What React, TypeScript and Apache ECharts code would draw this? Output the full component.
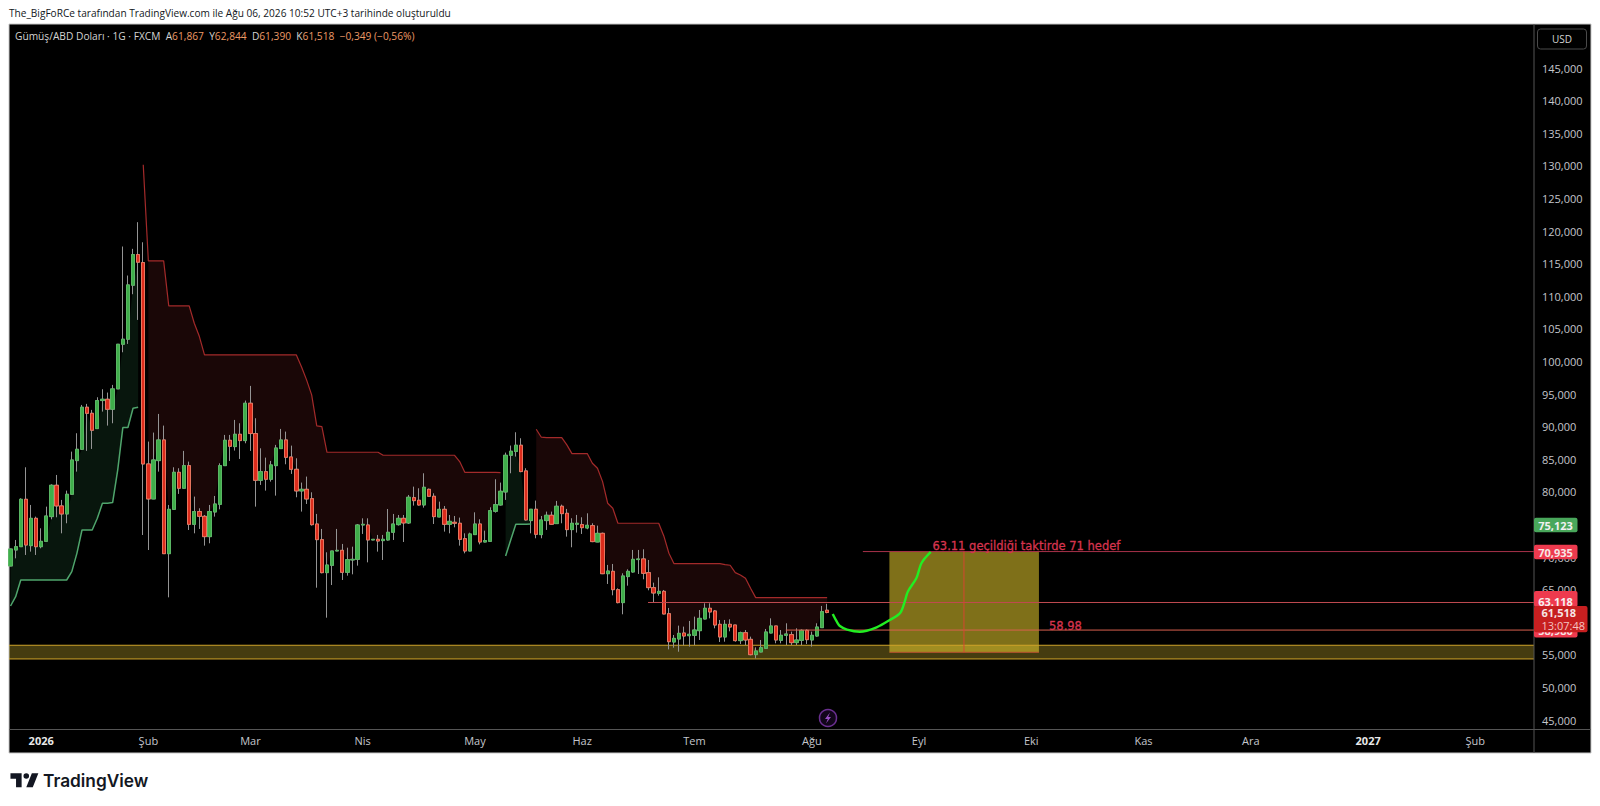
import React, { useEffect, useRef } from "react";
import * as echarts from "echarts";

// open, close, low, high (thousands of USD) for each daily bar
const candles: number[][] = [
  [68.65,71.26,68.6,71.3],[71.1,71.61,69.82,72.64],[71.61,78.88,71.6,79.03],[78.88,71.87,70.34,83.79],[71.77,75.96,70.85,78.01],
  [75.96,71.61,70.34,76.22],[71.61,72.43,71.36,74.43],[72.43,76.32,72.33,77.75],[76.22,81.03,75.81,81.18],[81.03,77.86,76.12,82.61],
  [77.86,76.63,73.66,78.78],[76.63,79.65,75.2,80.21],[79.65,84.91,79.55,86.19],[84.81,86.55,83.12,89.01],[86.55,93.0,86.45,93.35],
  [93.0,92.07,86.3,93.51],[92.07,89.47,86.6,92.59],[89.72,94.02,89.67,94.53],[94.02,94.22,92.33,95.76],[94.22,92.69,90.18,95.25],
  [92.69,95.81,90.54,96.42],[95.81,102.66,95.8,102.7],[102.66,103.43,101.43,117.65],[103.43,111.76,102.71,113.2],[111.71,116.42,110.33,117.29],
  [116.42,115.24,106.39,121.38],[115.19,84.3,73.4,118.3],[84.3,78.93,71.1,87.73],[78.93,84.91,78.9,89.11],[84.81,87.98,83.12,91.97],
  [87.98,70.54,70.5,90.18],[70.54,77.34,63.84,78.01],[77.34,83.02,77.24,83.79],[83.02,80.57,79.7,83.64],[80.57,84.04,80.5,86.3],
  [84.04,75.04,74.17,84.66],[75.04,77.0,73.66,79.29],[77.0,76.27,74.33,77.5],[76.27,73.15,71.77,76.47],[73.15,77.0,72.13,78.01],
  [76.93,78.16,76.22,79.39],[78.11,84.04,77.34,84.4],[84.04,87.93,84.0,88.75],[87.93,87.01,84.76,88.75],[86.96,88.85,86.35,91.05],
  [88.85,87.88,85.07,90.54],[87.88,93.61,87.47,94.02],[93.61,88.96,86.3,96.27],[88.96,81.79,77.75,91.31],[81.79,83.12,81.08,86.7],
  [83.12,81.95,80.21,85.27],[81.95,84.15,81.59,84.76],[84.04,86.75,79.44,87.22],[86.65,87.98,86.6,89.67],[87.98,85.32,84.25,89.26],
  [85.37,83.48,82.77,87.11],[83.48,80.16,79.19,85.17],[80.16,80.41,76.99,81.44],[80.41,78.93,78.16,82.36],[78.98,74.99,74.84,79.95],
  [75.09,72.69,65.32,76.63],[72.69,67.63,67.52,74.33],[67.63,68.8,60.72,70.75],[68.75,70.95,65.73,70.95],[70.95,71.05,70.9,74.33],
  [71.05,67.68,66.5,72.03],[67.68,69.62,67.17,71.46],[69.57,69.67,67.37,71.61],[69.67,74.94,68.7,75.09],[74.94,75.04,73.56,75.96],
  [74.94,72.64,69.21,75.96],[72.64,72.74,72.6,72.74],[72.74,72.48,70.85,73.41],[72.54,72.74,69.57,73.41],[72.64,73.82,72.54,77.39],
  [73.82,75.09,72.64,76.63],[74.99,75.96,74.84,76.47],[75.96,75.25,72.33,76.47],[75.25,79.19,75.09,79.54],[79.13,78.67,77.91,80.82],
  [78.73,78.01,77.91,80.57],[78.01,80.72,77.6,82.87],[80.41,79.34,79.29,80.52],[79.34,76.22,75.09,79.8],[76.17,77.34,76.12,78.52],
  [77.34,75.04,73.92,77.85],[75.04,75.5,73.66,76.47],[75.35,75.2,74.58,76.32],[75.2,72.74,71.77,76.07],[72.84,70.95,70.59,73.66],
  [70.95,73.56,70.9,73.76],[73.46,75.09,73.41,76.88],[75.09,72.33,71.97,75.81],[72.33,72.54,72.28,74.07],[72.43,77.14,72.38,77.65],
  [77.04,78.06,76.83,81.95],[78.01,80.11,77.91,81.44],[80.0,85.63,78.78,86.04],[85.63,86.25,82.87,87.12],[86.2,87.17,85.43,89.16],
  [87.17,83.13,83.03,88.24],[83.23,75.71,75.61,83.64],[75.61,77.35,73.66,77.35],[77.35,73.51,72.9,78.68],[73.46,75.71,72.9,76.32],
  [75.61,76.43,74.18,76.99],[76.43,75.05,74.94,76.99],[75.15,77.81,75.1,78.63],[77.81,76.68,75.2,78.06],[76.73,74.23,73.15,77.4],
  [74.23,75.2,71.52,75.97],[75.05,75.2,73.77,76.48],[75.0,74.53,73.56,76.12],[74.48,74.89,74.28,76.73],[74.84,72.39,72.3,75.2],
  [72.33,73.66,72.3,74.84],[73.66,67.47,67.4,73.77],[67.47,67.88,65.89,68.81],[67.83,65.02,64.15,68.96],[65.02,63.03,62.92,65.23],
  [63.03,67.12,61.24,67.53],[67.02,67.83,65.63,68.14],[67.73,69.67,67.63,71.11],[69.63,69.73,67.42,71.11],[69.73,67.53,66.61,71.21],
  [67.63,65.33,64.92,69.57],[65.33,64.51,63.08,66.09],[64.46,64.76,64.1,66.91],[64.76,61.29,61.25,64.97],[61.34,57.04,55.86,62.21],
  [56.99,57.55,56.12,58.07],[57.45,58.32,55.5,59.5],[58.37,57.91,56.48,59.35],[57.96,58.17,56.28,60.22],[58.02,58.83,56.53,60.88],
  [58.73,60.62,57.3,61.9],[60.52,62.16,60.47,62.93],[62.16,61.6,60.62,62.93],[61.75,59.6,59.09,61.9],[59.7,57.76,56.99,60.37],
  [57.76,59.7,57.04,60.37],[59.7,59.29,58.63,60.47],[59.6,57.2,57.04,59.6],[57.2,58.42,56.69,58.58],[58.42,57.3,56.53,58.83],
  [57.4,55.05,54.95,57.81],[55.05,55.61,54.48,56.17],[55.46,56.12,55.41,57.3],[56.02,58.53,55.97,58.99],[58.37,59.45,58.32,60.62],
  [59.45,57.3,56.79,59.45],[57.25,58.02,56.79,58.83],[58.02,58.22,56.53,59.86],[58.12,56.89,56.53,58.58],[56.89,57.3,56.53,59.09],
  [57.25,58.78,56.53,58.93],[58.78,57.35,56.69,58.93],[57.3,58.02,56.28,58.58],[57.91,59.29,57.81,59.86],[59.19,61.65,59.19,62.52],
  [61.867,61.518,61.39,62.844],
];

const greenTrendFirst = [62.51,63.94,66.5,66.5,66.5,66.5,66.5,66.5,66.5,66.5,66.5,66.5,67.78,70.59,74.17,74.17,74.17,75.96,78.26,78.26,78.37,83.38,89.88,89.88,92.84,92.99];
const greenTrendSecond = [70.19,72.64,75.05,75.05,75.05,75.1];
const redTrendFirst = [130.18,115.45,115.45,115.45,115.45,108.54,108.54,108.54,108.54,108.54,105.88,103.84,
  101.02,101.02,101.02,101.02,101.02,101.02,101.02,101.02,101.02,101.02,101.02,101.02,101.02,101.02,101.02,101.02,101.02,101.02,101.02,
  99.2,97.19,94.89,90.13,90.03,86.09,86.09,86.09,86.09,86.09,86.09,86.09,86.09,86.09,86.09,86.09,
  85.63,85.63,85.63,85.63,85.63,85.63,85.63,85.63,85.63,85.63,85.63,85.63,85.63,85.63,85.63,
  84.66,83.02,83.02,83.02,83.02,83.02,83.02,83.02,82.97];
const redTrendSecond = [89.62,88.4,88.34,88.34,88.34,88.34,87.22,85.89,85.89,85.89,85.89,84.41,83.64,81.59,78.27,77.5,
  75.2,75.2,75.2,75.2,75.2,75.2,75.2,75.2,75.2,73.26,70.6,
  69.0,69.0,69.0,69.0,69.0,69.0,69.0,69.0,69.0,69.0,68.86,68.76,67.63,67.27,66.76,65.23,
  63.8,63.8,63.8,63.8,63.8,63.8,63.8,63.8,63.8,63.8,63.8,63.8,63.8,63.8,63.8];

const priceTicks = [45,50,55,60,65,70,75,80,85,90,95,100,105,110,115,120,125,130,135,140,145];
const monthLabels: Record<number, string> = { 6:"2026", 27:"Şub", 47:"Mar", 69:"Nis", 91:"May", 112:"Haz", 134:"Tem", 157:"Ağu", 178:"Eyl", 200:"Eki", 222:"Kas", 243:"Ara", 266:"2027", 287:"Şub" };

// hand-drawn annotations in [bar index, price]
const forecastCurve = [[161.1,61.29],[161.9,60.1],[162.5,59.45],[163.9,58.9],[166.4,58.57],[169.7,59.25],[172.3,60.37],[174.3,61.44],[175.2,63.18],[175.8,64.71],[177.5,66.81],[178.5,69.11],[180.3,70.8]];
const targetLevel = 70.86, breakLevel = 63.05, supportLevel = 58.82;
const bandHigh = 56.49, bandLow = 54.39;
const boxLeftBar = 172.2, boxRightBar = 201.5, boxMidBar = 186.8, boxLow = 55.41;
const targetStartBar = 167, breakStartBar = 124.9, supportStartBar = 151.9;

const BAR_SLOTS = 299;
const FONT = "'Open Sans', sans-serif";
const NOTE_FONT = "11.5px 'DejaVu Sans', sans-serif";

echarts.graphic.registerShape("tvlogo", echarts.graphic.extendPath("M14 6H2v6h6v9h6V6zm12 15h-7l6-15h7l-6 15zm-7-9a3 3 0 1 0 0-6 3 3 0 0 0 0 6z", {}) as any);

const GREEN_START_2 = 97;
const RED_START_1 = 26;
const RED_START_2 = 103;

function levelSeries(name: string, from: number, to: number, y1: number, y2: number, color: string, extra: any = {}) {
  return {
    name, type: "line", xAxisIndex: 1, yAxisIndex: 0, z: 5, symbol: "none", silent: true,
    data: [[from, y1], [to, y2]], lineStyle: { color, width: 1 }, ...extra,
  };
}

export default function App() {
  const ref = useRef<HTMLDivElement>(null);
  useEffect(() => {
    if (!ref.current) return;
    const chart = echarts.init(ref.current, undefined, { renderer: "svg" });

    const categories = Array.from({ length: BAR_SLOTS }, (_, i) => monthLabels[i] ?? String(i));
    const bodies = candles.map(([o, c]) => [o, c, Math.min(o, c), Math.max(o, c)]);

    const red: (number | null)[] = candles.map(() => null);
    redTrendFirst.forEach((v, i) => (red[RED_START_1 + i] = v));
    redTrendSecond.forEach((v, i) => (red[RED_START_2 + i] = v));
    const green: (number | null)[] = candles.map(() => null);
    greenTrendFirst.forEach((v, i) => (green[i] = v));
    greenTrendSecond.forEach((v, i) => (green[GREEN_START_2 + i] = v));

    const redBase = candles.map(([o, c], i) => (red[i] != null && i !== RED_START_1 ? Math.max(o, c) : null));
    const redFill = candles.map((_, i) => (redBase[i] != null ? (red[i] as number) - (redBase[i] as number) : null));
    const greenFill = candles.map(([o, c], i) => (green[i] != null ? Math.max(0, Math.min(o, c) - (green[i] as number)) : null));

    const none = { opacity: 0 };
    const bandLeft = -0.3;
    const option: any = {
      animation: false,
      backgroundColor: "#ffffff",
      textStyle: { fontFamily: FONT },
      grid: { left: 8, right: 66, top: 24.5, bottom: 76.5, containLabel: false },
      xAxis: [
        {
          type: "category", data: categories, boundaryGap: true,
          axisLine: { show: false }, axisTick: { show: false }, splitLine: { show: false },
          axisLabel: {
            interval: (i: number) => monthLabels[i] !== undefined,
            formatter: (v: string) => (/^\d{4}$/.test(v) && Number(v) > 2000 ? `{b|${v}}` : v),
            color: "#c4c6cc", fontSize: 11, margin: 5, fontFamily: FONT, hideOverlap: false,
            rich: { b: { color: "#e8e8e8", fontWeight: "bold", fontSize: 11, fontFamily: FONT } },
          },
        },
        { type: "value", min: -0.5, max: BAR_SLOTS - 0.5, show: false, splitLine: { show: false } },
      ],
      yAxis: [{
        type: "value", position: "right", min: 43.57, max: 151.7,
        axisLine: { show: false }, axisTick: { show: false }, splitLine: { show: false },
        axisLabel: {
          customValues: priceTicks,
          formatter: (v: number) => `${v},000`,
          color: "#c4c6cc", fontSize: 11, margin: 8, fontFamily: FONT,
        },
      }],
      series: [
        // supertrend fills
        { name: "redBase", type: "line", stack: "red", data: redBase, symbol: "none", lineStyle: none, z: 1, silent: true },
        { name: "redFill", type: "line", stack: "red", data: redFill, symbol: "none", lineStyle: none, areaStyle: { color: "#1a0707", opacity: 1 }, z: 1, silent: true },
        { name: "greenBase", type: "line", stack: "green", data: green, symbol: "none", lineStyle: none, z: 1, silent: true },
        { name: "greenFill", type: "line", stack: "green", data: greenFill, symbol: "none", lineStyle: none, areaStyle: { color: "#08160d", opacity: 1 }, z: 1, silent: true },
        // support band + target box
        levelSeries("Band", bandLeft, BAR_SLOTS - 0.5, bandHigh, bandHigh, "#cfa42a", {
          z: 2,
          markArea: { silent: true, data: [[
            { coord: [bandLeft, bandHigh], itemStyle: { color: "rgba(255,220,60,0.27)", borderWidth: 0 } },
            { coord: [BAR_SLOTS - 0.5, bandLow] },
          ]] },
        }),
        levelSeries("BandLow", bandLeft, BAR_SLOTS - 0.5, bandLow, bandLow, "#cfa42a", { z: 2 }),
        // candles: wicks below, bodies above
        {
          name: "Wicks", type: "candlestick", data: candles, barWidth: 3.8, z: 3, silent: true,
          itemStyle: { color: "#949494", color0: "#949494", borderColor: "#949494", borderColor0: "#949494", borderWidth: 1 },
        },
        {
          name: "Gümüş/ABD Doları", type: "candlestick", data: bodies, barWidth: 3.8, z: 4, silent: true,
          itemStyle: { color: "#3fae4a", color0: "#dc2c1c", borderColor: "#57bb62", borderColor0: "#f27a60", borderWidth: 0.8 },
        },
        // supertrend lines
        { name: "Red trend", type: "line", data: red, symbol: "none", z: 4, silent: true, lineStyle: { color: "#a32a2a", width: 1.2 } },
        { name: "Green trend", type: "line", data: green, symbol: "none", z: 4, silent: true, lineStyle: { color: "#4fa56c", width: 1.5 } },
        // drawn levels
        levelSeries("Target", targetStartBar, BAR_SLOTS - 0.5, targetLevel, targetLevel, "#a8324a"),
        levelSeries("Break", breakStartBar, BAR_SLOTS - 0.5, breakLevel, breakLevel, "#c04a50"),
        levelSeries("Support", supportStartBar, BAR_SLOTS - 0.5, supportLevel, supportLevel, "#d8604f"),
        levelSeries("BoxBottom", boxLeftBar, boxRightBar, boxLow, boxLow, "#b8502f", {
          z: 5,
          markArea: { silent: true, data: [[
            { coord: [boxLeftBar, targetLevel], itemStyle: { color: "rgba(254,224,50,0.5)", borderWidth: 0 } },
            { coord: [boxRightBar, boxLow] },
          ]] },
        }),
        levelSeries("BoxMid", boxMidBar, boxMidBar, targetLevel, boxLow, "rgba(222,66,50,0.6)", { lineStyle: { color: "rgba(222,66,50,0.6)", width: 1.5 } }),
        {
          name: "Forecast", type: "line", xAxisIndex: 1, data: forecastCurve, smooth: 0.3, symbol: "none", z: 6, silent: true,
          lineStyle: { color: "#22ee22", width: 2.4 },
        },
      ],
      graphic: { elements: [
        { type: "rect", z: -10, silent: true, shape: { x: 9, y: 24, width: 1582, height: 729 }, style: { fill: "#000000", stroke: "#c8c8c8", lineWidth: 1 } },
        { type: "line", z: 10, silent: true, shape: { x1: 9, y1: 729.5, x2: 1591, y2: 729.5 }, style: { stroke: "#555555", lineWidth: 1 } },
        { type: "line", z: 10, silent: true, shape: { x1: 1534, y1: 24, x2: 1534, y2: 753 }, style: { stroke: "#555555", lineWidth: 1 } },
        { type: "text", z: 20, x: 9, y: 13, style: { text: "The_BigFoRCe tarafından TradingView.com ile Ağu 06, 2026 10:52 UTC+3 tarihinde oluşturuldu", fill: "#131722", font: `10.1px ${FONT}`, textVerticalAlign: "middle" } },
        { type: "text", z: 20, x: 15, y: 36, style: {
          text: "{t|Gümüş/ABD Doları · 1G · FXCM}  {l|A}{v|61,867}  {l|Y}{v|62,844}  {l|D}{v|61,390}  {l|K}{v|61,518}  {v|−0,349 (−0,56%)}",
          verticalAlign: "middle", font: `10.2px ${FONT}`,
          rich: {
            t: { fill: "#d4d4d4", font: `10.2px ${FONT}` }, l: { fill: "#d4d4d4", font: `10.2px ${FONT}` }, v: { fill: "#ec9a66", font: `10.2px ${FONT}` },
          },
        } },
        // USD box
        { type: "rect", z: 20, shape: { x: 1537.5, y: 29, width: 49, height: 20, r: 3 }, style: { fill: "#000", stroke: "#4a4a4a", lineWidth: 1 } },
        { type: "text", z: 21, x: 1562, y: 39, style: { text: "USD", fill: "#d4d4d4", font: `10px ${FONT}`, align: "center", verticalAlign: "middle" } },
        // price badges
        { type: "rect", z: 20, shape: { x: 1534, y: 517.7, width: 43.5, height: 14.5, r: 2 }, style: { fill: "#49a75b" } },
        { type: "text", z: 21, x: 1555.5, y: 525, style: { text: "75,123", fill: "#f0f0f0", font: `bold 11px ${FONT}`, align: "center", verticalAlign: "middle" } },
        { type: "rect", z: 20, shape: { x: 1534, y: 544.7, width: 43.5, height: 14.5, r: 2 }, style: { fill: "#ee3a4e" } },
        { type: "text", z: 21, x: 1555.5, y: 552, style: { text: "70,935", fill: "#f6e6e6", font: `bold 11px ${FONT}`, align: "center", verticalAlign: "middle" } },
        { type: "rect", z: 20, shape: { x: 1534, y: 622, width: 43.5, height: 15.5, r: 2 }, style: { fill: "#ee3a4e" } },
        { type: "text", z: 21, x: 1555.5, y: 630, style: { text: "58,980", fill: "#f6e6e6", font: `bold 11px ${FONT}`, align: "center", verticalAlign: "middle" } },
        { type: "rect", z: 20, shape: { x: 1534, y: 591, width: 43.5, height: 16, r: 2 }, style: { fill: "#ee3a4e" } },
        { type: "text", z: 21, x: 1555.5, y: 601.5, style: { text: "63.118", fill: "#f6f0f0", font: `bold 11px ${FONT}`, align: "center", verticalAlign: "middle" } },
        { type: "rect", z: 22, shape: { x: 1534, y: 606, width: 53.5, height: 26.3, r: 2 }, style: { fill: "#c71f20" } },
        { type: "text", z: 23, x: 1541.5, y: 612.5, style: { text: "61,518", fill: "#f6e6e6", font: `bold 11px ${FONT}`, verticalAlign: "middle" } },
        { type: "text", z: 23, x: 1541.5, y: 625, style: { text: "13:07:48", fill: "#f3c4c0", font: `11px ${FONT}`, verticalAlign: "middle" } },
        // drawing texts
        { type: "text", z: 20, x: 932.5, y: 546, style: { text: "63.11 geçildiği taktirde 71 hedef", fill: "#d6344e", stroke: "#d6344e", lineWidth: 0.3, font: NOTE_FONT, verticalAlign: "middle" } },
        { type: "text", z: 20, x: 1049, y: 625.5, style: { text: "58.98", fill: "#d6344e", stroke: "#d6344e", lineWidth: 0.3, font: NOTE_FONT, verticalAlign: "middle" } },
        // lightning badge
        { type: "circle", z: 20, shape: { cx: 828, cy: 718, r: 8.5 }, style: { fill: "#12061a", stroke: "#6a2f8f", lineWidth: 1.5 } },
        { type: "polygon", z: 21, shape: { points: [[830,712.5],[825,719],[827.8,719],[826,723.5],[831,717],[828.2,717]] }, style: { fill: "#9a4fc4" } },
        // logo
        { type: "tvlogo", z: 20, x: 8.6, y: 767.6, scaleX: 0.93, scaleY: 0.93, style: { fill: "#131722" } },
        { type: "text", z: 20, x: 43, y: 780, style: { text: "TradingView", fill: "#131722", font: `600 17.3px Inter, sans-serif`, verticalAlign: "middle" } },
      ] },
    };
    chart.setOption(option);
    return () => chart.dispose();
  }, []);
  return <div ref={ref} style={{ position: "absolute", left: 0, top: 0, width: 1600, height: 806 }} />;
}
